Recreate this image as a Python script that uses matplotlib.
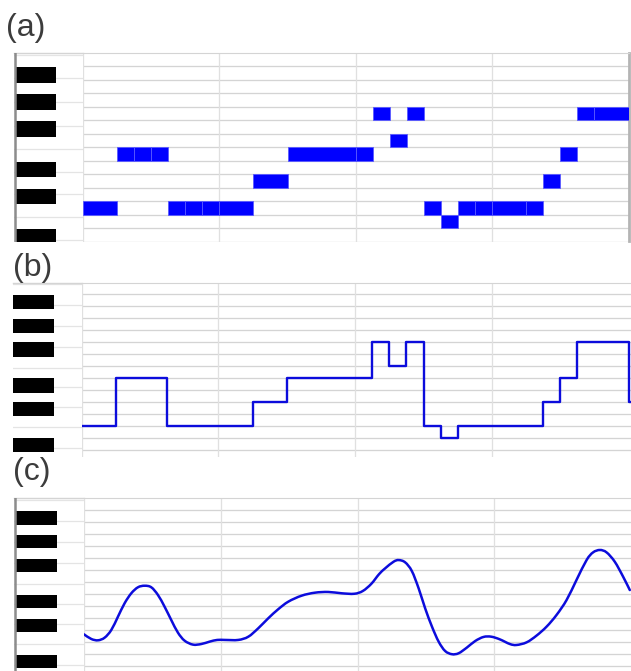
import matplotlib
matplotlib.use('Agg')
import matplotlib.pyplot as plt
from matplotlib.path import Path
from matplotlib.patches import PathPatch

W, H = 631, 671

# (a) note events: onset (16th steps), duration, midi pitch
note_on = [0, 2, 3, 4, 5, 6, 7, 8, 10, 12, 16, 17, 18, 19, 20, 21, 22, 23, 24, 26, 27, 28, 29, 30]
note_dur = [2, 1, 1, 1, 1, 1, 1, 2, 2, 4, 1, 1, 1, 1, 1, 1, 1, 1, 2, 1, 1, 1, 1, 2]
note_pitch = [60, 64, 64, 64, 60, 60, 60, 60, 62, 64, 64, 67, 65, 67, 60, 59, 60, 60, 60, 60, 62, 64, 67, 67]

# (b) stepped pitch
step_t = [0, 2, 5, 10, 12, 17, 18, 19, 20, 21, 22, 27, 28, 29, 32, 33]
step_p = [60, 64, 60, 62, 64, 67, 65, 67, 60, 59, 60, 62, 64, 67, 62, 62]

# (c) smoothed pitch contour
curve_t = [-0.02, 0.41, 0.80, 1.19, 1.58, 1.97, 2.36, 2.75, 3.14, 3.53, 3.92, 4.31, 4.70,
           5.09, 5.48, 5.87, 6.36, 6.85, 7.34, 7.78, 8.23, 9.01, 9.60, 10.18, 10.77, 11.35,
           11.94, 12.72, 13.50, 14.28, 15.06, 15.80, 16.30, 16.80, 17.25, 17.61, 18.10, 18.40,
           18.78, 19.17, 19.57, 19.95, 20.35, 20.74, 21.12, 21.52, 21.91, 22.39, 22.88, 23.37,
           23.82, 24.32, 24.91, 25.30, 25.89, 26.47, 27.06, 27.64, 28.23, 28.81, 29.40, 29.78,
           30.18, 30.57, 31.05, 31.54, 31.93]
curve_p = [60.64, 60.25, 60.14, 60.36, 61.00, 62.11, 63.23, 64.06, 64.56, 64.69, 64.56, 63.92, 62.94,
           61.83, 60.78, 60.11, 59.78, 59.83, 60.03, 60.17, 60.17, 60.17, 60.44, 61.14, 61.98, 62.73,
           63.36, 63.86, 64.11, 64.17, 64.06, 64.02, 64.25, 64.85, 65.65, 66.14, 66.69, 66.83,
           66.64, 65.92, 64.47, 62.81, 61.28, 60.03, 59.25, 58.98, 59.06, 59.53, 60.08, 60.42,
           60.44, 60.22, 59.83, 59.75, 59.97, 60.53, 61.28, 62.25, 63.50, 65.17, 66.83, 67.47,
           67.67, 67.47, 66.69, 65.44, 64.33]

labels = ['(a)', '(b)', '(c)']

GRID_H = '#d4d4d4'
GRID_V = '#e0e0e0'
BLUE = '#0c0cdc'


def box(x0, y0, x1, y1):
    return [x0 / W, 1 - y1 / H, (x1 - x0) / W, (y1 - y0) / H]


def keyboard(fig, rect, ylim, kx0, kx1, kh, off, left_line):
    ax = fig.add_axes(rect)
    width_px = rect[2] * W
    ax.set_xlim(0, width_px)
    ax.set_ylim(*ylim)
    for s in ax.spines.values():
        s.set_visible(False)
    ax.spines['top'].set_visible(True)
    ax.spines['top'].set_color(GRID_H)
    ax.spines['top'].set_linewidth(1.0)
    if left_line:
        ax.axvline(0.5, color='#8c8c8c', lw=1.8, zorder=4)
    ax.set_xticks([])
    ax.set_yticks([])
    # white key boundaries
    for base in [48, 60, 72]:
        b = base - 0.5 + off
        for d in [0, 5 / 3, 10 / 3, 5, 5 + 7 / 4, 5 + 14 / 4, 5 + 21 / 4]:
            ax.axhline(b + d, color='#e4e4e4', lw=0.9, zorder=1)
    # black keys
    for p in range(50, 80):
        if p % 12 in (1, 3, 6, 8, 10):
            c = p + off
            ax.add_patch(plt.Rectangle((kx0, c - kh / 2), kx1 - kx0, kh,
                                       facecolor='black', edgecolor='none', zorder=3))
    return ax


def roll_axes(fig, rect, xlim, ylim, hlines):
    ax = fig.add_axes(rect)
    ax.set_xlim(*xlim)
    ax.set_ylim(*ylim)
    for s in ax.spines.values():
        s.set_visible(False)
    ax.spines['top'].set_visible(True)
    ax.spines['top'].set_color(GRID_H)
    ax.set_xticks([])
    ax.set_yticks([])
    for y in hlines:
        ax.axhline(y, color=GRID_H, lw=0.95, zorder=1)
    for x in [0, 8, 16, 24]:
        ax.axvline(x, color=GRID_V, lw=0.95, zorder=1)
    return ax


def smooth_path(xs, ys):
    # Catmull-Rom through the read points, drawn as cubic Bezier segments
    verts = [(xs[0], ys[0])]
    codes = [Path.MOVETO]
    n = len(xs)
    for i in range(n - 1):
        x0, y0 = (xs[i - 1], ys[i - 1]) if i > 0 else (xs[i], ys[i])
        x1, y1 = xs[i], ys[i]
        x2, y2 = xs[i + 1], ys[i + 1]
        x3, y3 = (xs[i + 2], ys[i + 2]) if i + 2 < n else (x2, y2)
        verts += [(x1 + (x2 - x0) / 6, y1 + (y2 - y0) / 6),
                  (x2 - (x3 - x1) / 6, y2 - (y3 - y1) / 6),
                  (x2, y2)]
        codes += [Path.CURVE4] * 3
    return Path(verts, codes)


fig = plt.figure(figsize=(W / 100, H / 100), dpi=100)

# ---- (a) piano roll
ylim_a = (57.51, 71.5)
keyboard(fig, box(14, 52.7, 83, 241.5), ylim_a, 1, 42, 1.16, -0.16, True)
ax = roll_axes(fig, box(83, 52.7, 628.5, 241.5), (0, 32), ylim_a,
               [p + 0.5 for p in range(57, 71)])
ax.spines['right'].set_visible(True)
ax.spines['right'].set_color('#b4b4b4')
ax.spines['right'].set_linewidth(2.0)
ax.bar(note_on, [1] * len(note_on), width=note_dur,
       bottom=[p - 0.5 for p in note_pitch], align='edge',
       color='#0000ff', edgecolor='#5a5aff', linewidth=0.6, zorder=3)

# ---- (b) step pitch
ylim_b = (57.43, 71.87)
keyboard(fig, box(13, 283.3, 81.5, 456.5), ylim_b, 0, 41, 1.17, 0.35, False)
ax = roll_axes(fig, box(81.5, 283.3, 631, 456.5), (0, 32.13), ylim_b, range(58, 72))
ax.plot(step_t, step_p, drawstyle='steps-post', color=BLUE, lw=1.7, zorder=3)

# ---- (c) smooth contour
ylim_c = (57.58, 71.98)
keyboard(fig, box(14, 498.3, 84.3, 671), ylim_c, 1.7, 42.7, 1.11, 0.35, True)
ax = roll_axes(fig, box(84.3, 498.3, 631, 671), (0, 32), ylim_c, range(58, 72))
ax.add_patch(PathPatch(smooth_path(curve_t, curve_p), facecolor='none',
                       edgecolor=BLUE, lw=1.8, zorder=3, capstyle='round'))

# panel labels
for lab, (x, y) in zip(labels, [(6, 28), (13, 268), (13, 472)]):
    fig.text(x / W, 1 - y / H, lab, fontsize=23, color='#3c3c3c',
             family=['Liberation Sans', 'DejaVu Sans'], ha='left', va='center')

fig.savefig('out.png', dpi=100)
